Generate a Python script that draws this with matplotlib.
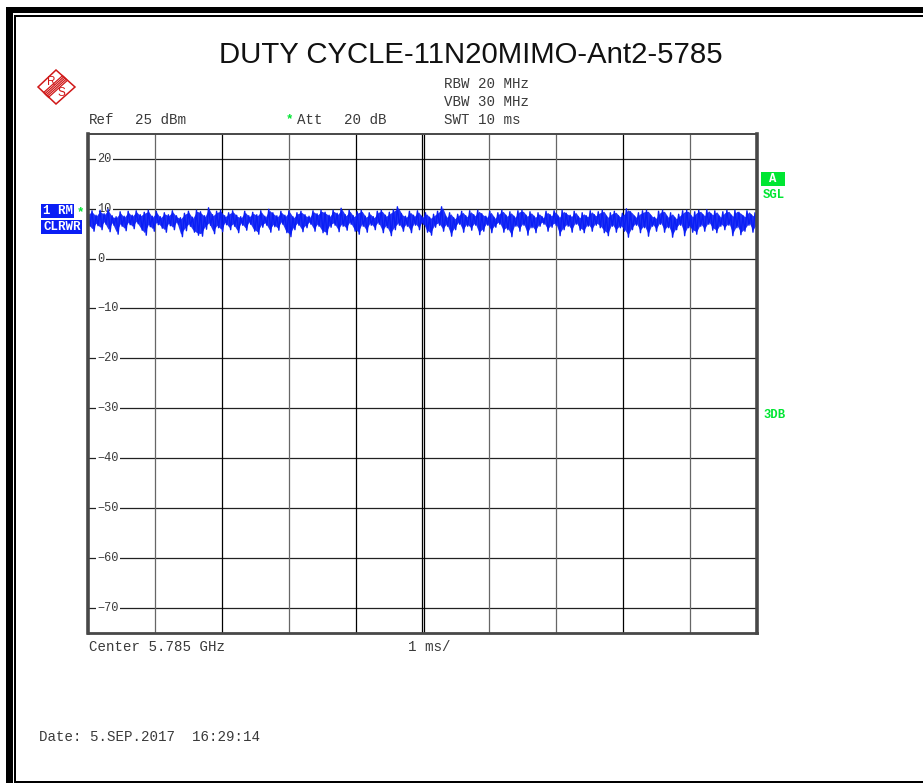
import numpy as np
import matplotlib
matplotlib.use('Agg')
import matplotlib.pyplot as plt
from matplotlib.patches import Polygon, Rectangle

# trace envelope, one pair every 0.06 ms (dBm)
trace_high = [
    9.1, 9.6, 8.7, 9.7, 9.0, 9.9, 8.6, 8.4, 9.4, 8.5, 9.5, 8.7, 9.6, 8.8, 9.3, 9.7, 8.5, 9.5, 8.4, 9.2,
    8.8, 9.6, 8.6, 8.2, 9.1, 9.5, 8.3, 9.7, 9.4, 8.6, 10.2, 8.8, 9.5, 9.7, 8.6, 9.2, 9.6, 8.7, 8.4, 9.5,
    8.6, 9.3, 8.8, 9.6, 8.5, 9.9, 9.2, 8.6, 9.5, 8.7, 9.6, 8.4, 9.2, 9.5, 8.8, 8.5, 9.6, 9.0, 9.7, 9.3,
    8.7, 9.7, 9.1, 10.1, 8.8, 9.7, 8.6, 9.4, 9.7, 8.5, 9.2, 8.4, 9.5, 9.7, 8.7, 9.3, 9.8, 10.4, 9.0, 8.5,
    9.5, 8.7, 9.6, 8.5, 9.2, 8.3, 8.9, 9.5, 10.4, 8.5, 9.2, 8.2, 8.9, 9.5, 8.6, 9.6, 8.8, 9.7, 9.0, 8.5,
    9.5, 8.3, 9.2, 9.7, 8.7, 9.4, 8.5, 9.6, 9.7, 8.7, 9.4, 8.5, 9.2, 8.4, 9.5, 8.8, 9.6, 8.5, 9.7, 9.1,
    8.7, 9.5, 8.4, 9.2, 8.6, 9.6, 8.8, 9.4, 9.7, 8.5, 9.2, 9.5, 8.6, 9.1, 10.0, 9.4, 8.5, 9.2, 9.6, 9.7,
    8.7, 8.3, 9.5, 9.7, 8.5, 9.2, 8.2, 8.9, 9.6, 9.7, 8.6, 9.4, 9.7, 8.8, 9.8, 9.0, 9.6, 8.5, 9.4, 9.7,
    8.7, 9.7, 9.3, 8.6, 9.6, 8.8, 9.2,
]
trace_low = [
    6.5, 5.5, 6.6, 5.8, 6.9, 5.4, 6.7, 4.9, 6.5, 5.6, 6.8, 6.0, 7.0, 5.7, 4.7, 6.4, 5.5, 6.8, 6.1, 5.3,
    6.6, 5.8, 6.9, 4.4, 5.6, 6.5, 5.3, 4.7, 4.5, 5.9, 6.7, 5.0, 6.2, 5.4, 6.8, 5.8, 6.5, 5.2, 6.7, 5.7,
    6.9, 5.5, 4.9, 6.3, 6.7, 5.3, 6.4, 5.7, 6.9, 5.2, 4.4, 5.8, 6.7, 5.4, 6.2, 6.9, 5.5, 6.5, 5.2, 4.8,
    6.3, 6.7, 5.4, 6.5, 5.7, 6.9, 5.5, 4.9, 6.5, 5.3, 6.7, 5.8, 6.9, 5.2, 6.2, 4.6, 5.8, 6.7, 5.5, 6.5,
    5.2, 6.7, 5.8, 6.9, 5.3, 4.7, 6.3, 6.7, 5.5, 6.5, 4.5, 5.8, 6.9, 5.3, 6.5, 5.7, 6.7, 4.8, 5.5, 6.7,
    5.2, 6.3, 6.9, 5.3, 5.8, 4.4, 6.5, 5.5, 6.7, 4.7, 6.2, 5.2, 6.5, 6.9, 5.5, 6.3, 6.7, 4.6, 5.8, 6.5,
    5.3, 6.9, 5.7, 5.2, 6.5, 5.5, 6.7, 6.2, 5.2, 4.6, 6.5, 5.3, 6.2, 5.5, 4.3, 5.8, 6.7, 5.2, 6.2, 4.5,
    6.5, 5.5, 6.9, 5.3, 6.2, 4.3, 5.8, 6.7, 4.6, 6.2, 5.3, 4.9, 6.5, 5.5, 6.9, 5.7, 5.2, 6.5, 5.8, 6.7,
    4.6, 6.2, 4.8, 5.5, 6.7, 5.3, 6.5,
]
db_ticks = [20, 10, 0, -10, -20, -30, -40, -50, -60, -70]
ms_ticks = [1, 2, 3, 4, 5, 6, 7, 8, 9]
dark_ms_ticks = [2, 4, 5, 8]

TITLE = 'DUTY CYCLE-11N20MIMO-Ant2-5785'
MONO = 'Liberation Mono'
BLUE = '#0a1ef5'
GREEN = '#00e632'
GRAY = '#666666'
W, H = 923, 783

fig = plt.figure(figsize=(W / 100, H / 100), dpi=100, facecolor='white')

# overlay in pixel coordinates for the page furniture
page = fig.add_axes([0, 0, 1, 1], zorder=3)
page.set_xlim(0, W)
page.set_ylim(H, 0)
page.axis('off')

page.add_patch(Rectangle((6, 7), W, 6, color='black', lw=0))
page.add_patch(Rectangle((6, 7), 6.5, H, color='black', lw=0))
page.add_patch(Rectangle((14, 15), W, 1.8, color='black', lw=0))
page.add_patch(Rectangle((14, 15), 1.8, H, color='black', lw=0))
page.add_patch(Rectangle((14, 781), W, 2, color='black', lw=0))

page.text(471, 55, TITLE, ha='center', va='center', fontsize=21.2,
          family='Liberation Sans', color='#111111')


def label(x, y, s, color='#3a3a3a', weight='normal', size=10.2, ha='left'):
    page.text(x, y, s, ha=ha, va='center', family=MONO, fontsize=size,
              color=color, fontweight=weight)


label(89, 119.5, 'Ref')
label(135, 119.5, '25 dBm')
label(297, 119.5, 'Att')
label(344, 119.5, '20 dB')
label(444, 84.5, 'RBW 20 MHz')
label(444, 102.5, 'VBW 30 MHz')
label(444, 119.5, 'SWT 10 ms')
label(89, 647, 'Center 5.785 GHz')
label(408, 647, '1 ms/')
label(39, 737, 'Date: 5.SEP.2017  16:29:14')
label(286, 119, '*', color=GREEN, weight='bold', size=9)
label(77, 212, '*', color=GREEN, weight='bold', size=9)

page.add_patch(Rectangle((41, 204), 33, 14, color=BLUE, lw=0))
page.add_patch(Rectangle((41, 220), 41, 14, color=BLUE, lw=0))
label(43, 211.5, '1 RM', color='white', weight='bold', size=9)
label(43, 227.5, 'CLRWR', color='white', weight='bold', size=9)

page.add_patch(Rectangle((761, 172), 24, 14, color=GREEN, lw=0))
label(773, 179, 'A', color='white', weight='bold', size=8.8, ha='center')
label(763, 195, 'SGL', color=GREEN, weight='bold', size=8.8)
label(763, 414.5, '3DB', color=GREEN, weight='bold', size=8.8)

# R&S logo
RED = '#d01818'
page.add_patch(Polygon([(38, 87), (56, 70), (75, 87), (56, 104)], closed=True,
                       fill=False, edgecolor=RED, lw=1.1))
for off in (-2.4, -1.2, 0, 1.2, 2.4):
    page.plot([46 + off, 65 + off], [95 + off, 78 + off], color=RED, lw=0.9)
page.text(51.5, 82, 'R', color=RED, fontsize=8.5, ha='center', va='center',
          family='Liberation Sans')
page.text(61.5, 93, 'S', color=RED, fontsize=8.5, ha='center', va='center',
          family='Liberation Sans')

# the measurement screen
ax = fig.add_axes([88 / W, 1 - 632.5 / H, 669 / W, 498.5 / H], zorder=2)
ax.set_xlim(0, 10)
ax.set_ylim(-75, 25)
ax.set_xticks([])
ax.set_yticks([])
for side in ax.spines:
    ax.spines[side].set_color('#484848')
    ax.spines[side].set_zorder(5)
ax.spines['left'].set_linewidth(2.6)
ax.spines['right'].set_linewidth(2.6)
ax.spines['top'].set_linewidth(1.4)
ax.spines['bottom'].set_linewidth(2.0)

for v in db_ticks:
    ax.axhline(v, color='#222222', lw=0.9, zorder=1)
    ax.text(0.135, v, str(v).replace('-', '\u2212'), ha='left', va='center',
            family=MONO, fontsize=8.6, color='#3a3a3a', zorder=2,
            bbox=dict(facecolor='white', edgecolor='none', pad=1.0))
for v in ms_ticks:
    c = 'black' if v in dark_ms_ticks else GRAY
    ax.axvline(v, color=c, lw=0.9, zorder=1)
ax.axvline(5.025, color='black', lw=0.9, zorder=1)

# solid core of the band, the jagged trace goes over and past it
t_pairs = np.linspace(0, 10, len(trace_high))
ax.fill_between(t_pairs, np.array(trace_low) + 0.5, np.array(trace_high) - 0.2,
                color=BLUE, lw=0, alpha=0.9, zorder=3)
trace = np.column_stack([trace_high, trace_low]).ravel()
t = np.linspace(0, 10, len(trace))
ax.plot(t, trace, color=BLUE, lw=1.0, zorder=4)

fig.savefig('out.png', dpi=100, facecolor='white')
